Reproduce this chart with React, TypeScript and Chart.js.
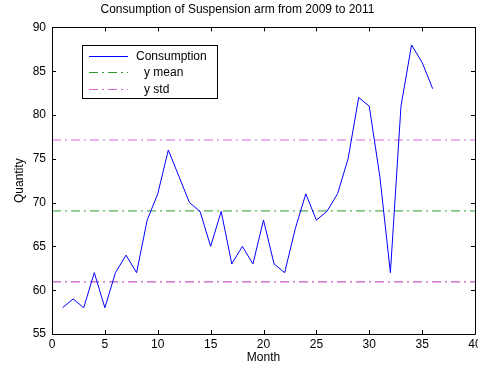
import React, { useEffect, useRef } from "react";
import { Chart, registerables } from "chart.js";

Chart.register(...registerables);

const titleText = "Consumption of Suspension arm from 2009 to 2011";
const xLabel = "Month";
const yLabel = "Quantity";

const months = [1, 2, 3, 4, 5, 6, 7, 8, 9, 10, 11, 12, 13, 14, 15, 16, 17, 18, 19, 20, 21, 22, 23, 24, 25, 26, 27, 28, 29, 30, 31, 32, 33, 34, 35, 36];
const consumption = [58, 59, 58, 62, 58, 62, 64, 62, 68, 71, 76, 73, 70, 69, 65, 69, 63, 65, 63, 68, 63, 62, 67, 71, 68, 69, 71, 75, 82, 81, 73, 62, 81, 88, 86, 83];

const refLineX = [0, 40];
const yMean = 69.05;
const yStdUpper = 77.15;
const yStdLower = 60.95;

const xTicks = [0, 5, 10, 15, 20, 25, 30, 35, 40];
const yTicks = [55, 60, 65, 70, 75, 80, 85, 90];

const FONT = "'Liberation Sans', Arial, Helvetica, sans-serif";
const dashDot = [9, 4, 2, 4];

const boxTicksPlugin = {
  id: "boxTicks",
  afterDraw(chart: any) {
    const ctx = chart.ctx;
    const { left, right, top, bottom } = chart.chartArea;
    const xs = chart.scales.x;
    const ys = chart.scales.y;
    ctx.save();
    ctx.strokeStyle = "#000";
    ctx.lineWidth = 1;
    ctx.beginPath();
    ctx.rect(Math.round(left) + 0.5, Math.round(top) + 0.5, Math.round(right - left), Math.round(bottom - top));
    ctx.stroke();
    const L = 4;
    ctx.beginPath();
    xTicks.forEach((v) => {
      const px = Math.round(xs.getPixelForValue(v)) + 0.5;
      ctx.moveTo(px, bottom);
      ctx.lineTo(px, bottom - L);
      ctx.moveTo(px, top);
      ctx.lineTo(px, top + L);
    });
    yTicks.forEach((v) => {
      const py = Math.round(ys.getPixelForValue(v)) + 0.5;
      ctx.moveTo(left, py);
      ctx.lineTo(left + L, py);
      ctx.moveTo(right, py);
      ctx.lineTo(right - L, py);
    });
    ctx.stroke();

    // legend box
    const bx = 82.5, by = 45.5, bw = 135, bh = 53;
    ctx.fillStyle = "#fff";
    ctx.fillRect(bx, by, bw, bh);
    ctx.strokeStyle = "#000";
    ctx.strokeRect(bx, by, bw, bh);
    ctx.font = "12px " + FONT;
    ctx.textBaseline = "middle";
    ctx.textAlign = "left";
    const items = chart.data.datasets.filter((d: any) => !d.hideInLegend);
    items.forEach((d: any, i: number) => {
      const y = Math.round(by + 10 + i * 16.5) + 0.5;
      ctx.strokeStyle = d.borderColor;
      ctx.lineWidth = 1;
      ctx.setLineDash(d.borderDash || []);
      ctx.beginPath();
      ctx.moveTo(89, y);
      ctx.lineTo(128, y);
      ctx.stroke();
      ctx.setLineDash([]);
      ctx.fillStyle = "#000";
      ctx.fillText(d.label, d.legendIndent ? 144 : 136, y);
    });
    ctx.restore();
  },
};

export default function App() {
  const ref = useRef<HTMLCanvasElement | null>(null);
  useEffect(() => {
    document.body.style.margin = "0";
    const canvas = ref.current!;
    const chart = new Chart(canvas, {
      type: "line",
      data: {
        datasets: [
          {
            label: "Consumption",
            data: months.map((m, i) => ({ x: m, y: consumption[i] })),
            borderColor: "#0000ff",
            borderWidth: 1,
            pointRadius: 0,
            tension: 0,
          },
          {
            label: "y mean",
            legendIndent: true,
            data: refLineX.map((x) => ({ x, y: yMean })),
            borderColor: "#2f9a2f",
            borderWidth: 1,
            borderDash: dashDot,
            pointRadius: 0,
          },
          {
            label: "y std",
            legendIndent: true,
            data: refLineX.map((x) => ({ x, y: yStdUpper })),
            borderColor: "#dc66dc",
            borderWidth: 1,
            borderDash: dashDot,
            pointRadius: 0,
          },
          {
            label: "y std",
            hideInLegend: true,
            data: refLineX.map((x) => ({ x, y: yStdLower })),
            borderColor: "#bb2dbb",
            borderWidth: 1,
            borderDash: dashDot,
            pointRadius: 0,
          },
        ] as any,
      },
      options: {
        responsive: false,
        animation: false,
        layout: { padding: { left: 0, right: 3, top: 0, bottom: 0 } },
        plugins: {
          legend: { display: false },
          tooltip: { enabled: false },
          title: {
            display: true,
            text: titleText,
            color: "#000",
            font: { family: FONT, size: 12, weight: "normal" },
            padding: { top: 2, bottom: 11 },
          },
        },
        scales: {
          x: {
            type: "linear",
            min: 0,
            max: 40,
            afterBuildTicks: (s: any) => {
              s.ticks = xTicks.map((v) => ({ value: v }));
            },
            afterFit: (s: any) => {
              s.height = 32;
              s.paddingRight = 0;
              s.paddingLeft = 0;
            },
            grid: { display: false, drawTicks: false },
            border: { display: false },
            ticks: { color: "#000", font: { family: FONT, size: 12 }, padding: 3, maxRotation: 0 },
            title: {
              display: true,
              text: xLabel,
              color: "#000",
              font: { family: FONT, size: 12 },
              padding: { top: 0, bottom: 1 },
            },
          },
          y: {
            type: "linear",
            min: 55,
            max: 90,
            afterBuildTicks: (s: any) => {
              s.ticks = yTicks.map((v) => ({ value: v }));
            },
            afterFit: (s: any) => {
              s.width = 52;
              s.paddingTop = 0;
              s.paddingBottom = 0;
            },
            grid: { display: false, drawTicks: false },
            border: { display: false },
            ticks: { color: "#000", font: { family: FONT, size: 12 }, padding: 6 },
            title: {
              display: true,
              text: yLabel,
              color: "#000",
              font: { family: FONT, size: 12 },
              padding: { top: 12, bottom: 4 },
            },
          },
        },
      } as any,
      plugins: [boxTicksPlugin],
    });
    return () => chart.destroy();
  }, []);
  return (
    <div style={{ width: 478, height: 366 }}>
      <canvas ref={ref} width={478} height={366} />
    </div>
  );
}
